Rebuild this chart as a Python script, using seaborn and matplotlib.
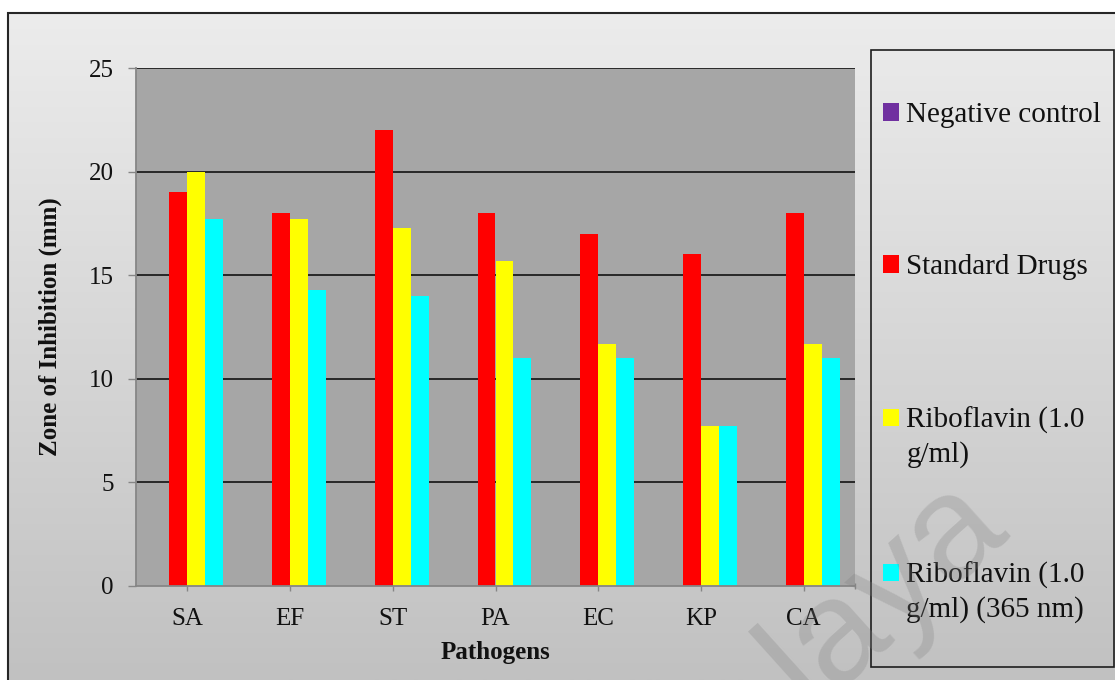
import numpy as np
import pandas as pd
import matplotlib
matplotlib.use("Agg")
import matplotlib.pyplot as plt
import seaborn as sns
from matplotlib.patches import Rectangle
from matplotlib.legend_handler import HandlerPatch
from matplotlib.colors import LinearSegmentedColormap

# ---- data -----------------------------------------------------------------
pathogens = ["SA", "EF", "ST", "PA", "EC", "KP", "CA"]
series = [
    "Negative control",
    "Standard Drugs",
    "Riboflavin (1.0 g/ml)",
    "Riboflavin (1.0 g/ml) (365 nm)",
]
negative_control = [0, 0, 0, 0, 0, 0, 0]
standard_drugs = [19, 18, 22, 18, 17, 16, 18]
riboflavin = [20, 17.7, 17.3, 15.7, 11.7, 7.7, 11.7]
riboflavin_365 = [17.7, 14.3, 14.0, 11.0, 11.0, 7.7, 11.0]
legend_labels = [
    "Negative control\n",
    "Standard Drugs\n",
    "Riboflavin (1.0\ng/ml)",
    "Riboflavin (1.0\ng/ml) (365 nm)",
]
y_ticks = [0, 5, 10, 15, 20, 25]
colors = ["#7030a0", "#ff0000", "#ffff00", "#00ffff"]

df = pd.DataFrame({
    "Pathogen": np.tile(pathogens, len(series)),
    "Series": np.repeat(series, len(pathogens)),
    "Zone": np.concatenate([negative_control, standard_drugs,
                            riboflavin, riboflavin_365]),
})

plt.rcParams["font.family"] = ["Liberation Serif", "DejaVu Serif"]
W, H = 1115, 680
fig = plt.figure(figsize=(W / 100, H / 100), dpi=100)
fig.patch.set_facecolor("white")

# chart-area background: soft vertical gradient with a dark border
bg = fig.add_axes([8 / W, 0, 1 - 8 / W, (H - 13) / H], zorder=-10)
grad = np.linspace(0, 1, 256).reshape(-1, 1)
cmap = LinearSegmentedColormap.from_list("bg", ["#ececec", "#c1c1c1"])
bg.imshow(grad, aspect="auto", cmap=cmap, extent=[0, 1, 0, 1], origin="upper")
bg.axis("off")
fig.patches.append(Rectangle((8 / W, -0.01), 1.0, (H - 13) / H + 0.01,
                             transform=fig.transFigure, fill=False,
                             ec="#262626", lw=1.5, zorder=-5))

# ---- plot area --------------------------------------------------------------
ax = fig.add_axes([136 / W, (H - 586) / H, (855 - 136) / W, (586 - 68) / H])
ax.set_facecolor("#a6a6a6")
sns.barplot(data=df, x="Pathogen", y="Zone", hue="Series", order=pathogens,
            hue_order=series, palette=colors, saturation=1, width=0.7,
            linewidth=0, errorbar=None, ax=ax)

ax.set_xlim(-0.5, len(pathogens) - 0.5)
ax.set_ylim(0, 25)
ax.set_yticks(y_ticks)
ax.set_axisbelow(True)
ax.yaxis.grid(True, color="#1e1e1e", lw=1.3)
ax.xaxis.grid(False)
ax.yaxis.get_major_ticks()[0].gridline.set_visible(False)

for side in ("top", "right"):
    ax.spines[side].set_visible(False)
for side in ("left", "bottom"):
    ax.spines[side].set_color("#868686")
    ax.spines[side].set_linewidth(1.3)

ax.tick_params(axis="y", length=6, width=1, color="#868686", pad=10,
               labelsize=18, labelcolor="#111111")
ax.tick_params(axis="x", length=3.6, width=1, color="#868686", pad=12,
               labelsize=18, labelcolor="#111111")
ax.set_xticks([len(pathogens) - 0.5], minor=True)
ax.tick_params(axis="x", which="minor", length=4, width=1, color="#868686",
               direction="inout")

ax.set_xlabel("Pathogens", fontsize=18, fontweight="bold", labelpad=8,
              color="#111111")
ax.set_ylabel("Zone of Inhibition (mm)", fontsize=18, fontweight="bold",
              labelpad=19, color="#111111")

# ---- legend ---------------------------------------------------------------
handles, _ = ax.get_legend_handles_labels()
ax.get_legend().remove()


def lifted_square(lift):
    def make(legend, orig_handle, xdescent, ydescent, width, height, fontsize):
        return Rectangle((-xdescent, -ydescent + lift), width, height)
    return make


leg = fig.legend(handles, legend_labels, loc="upper left",
                 bbox_to_anchor=(883 / W, (H - 102) / H), frameon=False,
                 prop={"family": "Liberation Serif", "size": 21},
                 handlelength=0.55, handleheight=0.55, handletextpad=0.25,
                 labelspacing=3.2, borderpad=0, borderaxespad=0,
                 handler_map={h: HandlerPatch(patch_func=lifted_square(14))
                              for h in handles})
for t in leg.get_texts():
    t.set_linespacing(1.35)
    t.set_color("#111111")

fig.patches.append(Rectangle((871 / W, (H - 667) / H), (1114 - 871) / W,
                             (667 - 50) / H, transform=fig.transFigure,
                             fill=False, ec="#1e1e1e", lw=1.2))

# faint diagonal watermark text
fig.text(884 / W, (H - 592) / H, "laya", rotation=42, fontsize=106,
         family="Liberation Sans", color="#808080", alpha=0.28,
         ha="center", va="center", zorder=20)

fig.savefig("out.png", dpi=100)
